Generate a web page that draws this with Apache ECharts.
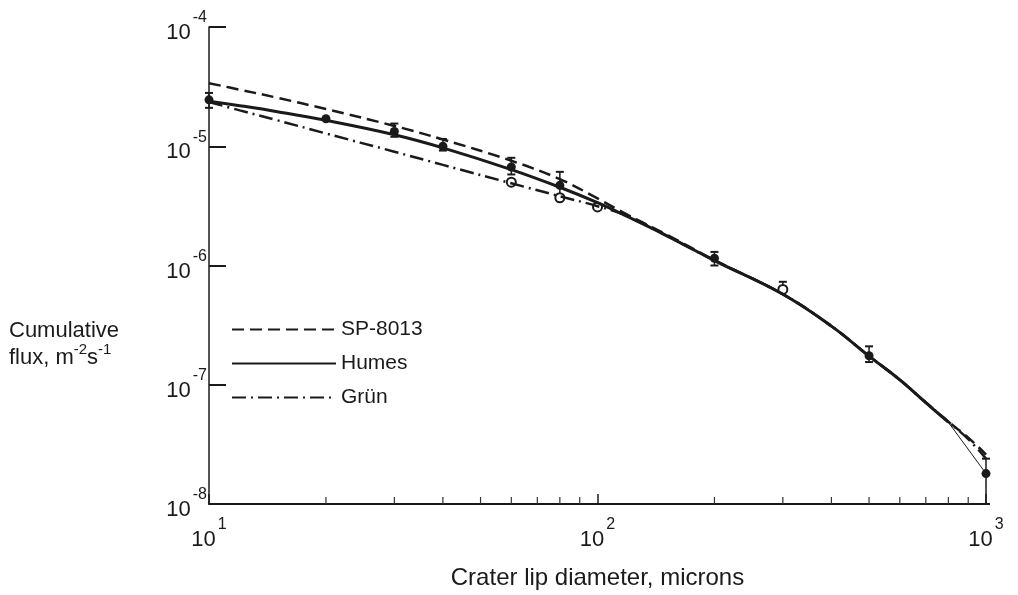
<!DOCTYPE html>
<html>
<head>
<meta charset="utf-8">
<script src="https://cdn.jsdelivr.net/npm/echarts@6/dist/echarts.min.js"></script>
<style>
  html, body { margin: 0; padding: 0; background: #fff; }
  #chart { width: 1018px; height: 595px; }
</style>
</head>
<body>
<div id="chart"></div>
<script>
// crater lip diameter (microns) sampled along the curves
var diam = [10, 12, 15, 20, 30, 40, 60, 80, 100, 120, 150, 200, 300, 400, 500, 600, 700, 800, 900, 1000];
var sp8013 = [3.38e-5, 2.98e-5, 2.55e-5, 2.05e-5, 1.48e-5, 1.14e-5, 7.56e-6, 5.3e-6, 3.65e-6, 2.64e-6, 1.83e-6, 1.11e-6, 5.75e-7, 3.1e-7, 1.74e-7, 1.1e-7, 7.1e-8, 4.9e-8, 3.6e-8, 2.6e-8];
var humes = [2.39e-5, 2.19e-5, 1.95e-5, 1.65e-5, 1.25e-5, 9.7e-6, 6.37e-6, 4.53e-6, 3.36e-6, 2.55e-6, 1.79e-6, 1.1e-6, 5.74e-7, 3.1e-7, 1.74e-7, 1.1e-7, 7.08e-8, 4.85e-8];
var grun = [2.35e-5, 2.0e-5, 1.65e-5, 1.28e-5, 9.0e-6, 6.98e-6, 4.89e-6, 3.81e-6, 3.14e-6, 2.59e-6, 1.79e-6, 1.1e-6, 5.74e-7, 3.1e-7, 1.74e-7, 1.1e-7, 7.1e-8, 4.9e-8, 3.5e-8, 2.4e-8];

// thin tail of the Humes fit down to the last point
var thinX = [800, 1000];
var thinY = [4.85e-8, 1.8e-8];

// measured points
var filledPts = [[10, 2.45e-5], [20, 1.7e-5], [30, 1.33e-5], [40, 1.0e-5], [60, 6.7e-6], [80, 4.7e-6], [200, 1.15e-6], [500, 1.75e-7], [1000, 1.8e-8]];
var openPts = [[60, 5.0e-6], [80, 3.7e-6], [100, 3.1e-6], [300, 6.3e-7]];
var errBars = [[10, 2.1e-5, 2.8e-5], [30, 1.2e-5, 1.55e-5], [40, 9.2e-6, 1.15e-5], [60, 5.8e-6, 8.0e-6], [80, 3.9e-6, 6.1e-6], [200, 1.0e-6, 1.3e-6], [300, 6.0e-7, 7.3e-7], [500, 1.55e-7, 2.1e-7], [1000, 1.0e-8, 2.4e-8]];

// minor x ticks
var minorX = [20, 30, 40, 50, 60, 70, 80, 90, 200, 300, 400, 500, 600, 700, 800, 900];

function pairs(xs, ys) {
  return ys.map(function(y, i) { return [xs[i], y]; });
}

var ink = '#1a1a1a';
var font = '"Liberation Sans", Arial, sans-serif';
var powRich = {
  b: { fontSize: 22, color: ink, fontFamily: font, verticalAlign: 'bottom', lineHeight: 34 },
  s: { fontSize: 16, color: ink, fontFamily: font, verticalAlign: 'top', lineHeight: 34, padding: [0, 0, 0, 2] }
};
function powLabel(v) {
  var e = Math.round(Math.log10(v));
  return '{b|10}{s|' + e + '}';
}

var chart = echarts.init(document.getElementById('chart'), null, { renderer: 'canvas' });
chart.setOption({
  animation: false,
  backgroundColor: '#fff',
  title: {
    text: '{t|Cumulative}\n{t|flux, m}{u|-2}{t|s}{u|-1}',
    left: 4, top: 310,
    textStyle: {
      fontSize: 22, fontWeight: 'normal', color: ink, fontFamily: font, lineHeight: 27,
      rich: {
        t: { fontSize: 22, color: ink, fontFamily: font, verticalAlign: 'bottom', lineHeight: 27 },
        u: { fontSize: 15, color: ink, fontFamily: font, verticalAlign: 'top', lineHeight: 27 }
      }
    }
  },
  legend: {
    data: ['SP-8013', 'Humes', 'Grün'],
    orient: 'vertical', left: 226, top: 314,
    itemWidth: 104, itemHeight: 14, itemGap: 13,
    itemStyle: { opacity: 0 },
    textStyle: { fontSize: 21, color: ink, fontFamily: font }
  },
  grid: { left: 209, right: 32, top: 27, bottom: 89 },
  xAxis: {
    type: 'log', logBase: 10, min: 10, max: 1000,
    name: 'Crater lip diameter, microns', nameLocation: 'middle', nameGap: 62,
    nameTextStyle: { fontSize: 24, color: ink, fontFamily: font },
    axisLine: { lineStyle: { color: ink, width: 2 } },
    axisTick: { inside: true, length: 10, lineStyle: { color: ink, width: 1.5 } },
    axisLabel: { margin: 13, formatter: powLabel, rich: powRich },
    splitLine: { show: false }
  },
  yAxis: {
    type: 'log', logBase: 10, min: 1e-8, max: 1e-4,
    axisLine: { lineStyle: { color: ink, width: 1.5 } },
    axisTick: { inside: true, length: 17, lineStyle: { color: ink, width: 2 } },
    axisLabel: { margin: 2, formatter: powLabel, rich: powRich },
    splitLine: { show: false }
  },
  series: [
    {
      name: 'SP-8013', type: 'line', data: pairs(diam, sp8013), smooth: 0.4,
      symbol: 'none', lineStyle: { color: ink, width: 2.5, type: [12, 6] }, itemStyle: { color: ink }
    },
    {
      name: 'Humes', type: 'line', data: pairs(diam, humes), smooth: 0.4,
      symbol: 'none', lineStyle: { color: ink, width: 3 }, itemStyle: { color: ink }
    },
    {
      name: 'Grün', type: 'line', data: pairs(diam, grun), smooth: 0.4,
      symbol: 'none', lineStyle: { color: ink, width: 2.5, type: [14, 5, 2, 5] }, itemStyle: { color: ink }
    },
    {
      name: 'thin', type: 'line', data: pairs(thinX, thinY),
      symbol: 'none', lineStyle: { color: ink, width: 1 }
    },
    {
      name: 'err', type: 'custom', data: errBars,
      encode: { x: 0, y: [1, 2] },
      renderItem: function(params, api) {
        var lo = api.coord([api.value(0), api.value(1)]);
        var hi = api.coord([api.value(0), api.value(2)]);
        var w = 4;
        return {
          type: 'group',
          children: [
            { type: 'line', shape: { x1: lo[0], y1: lo[1], x2: hi[0], y2: hi[1] }, style: { stroke: ink, lineWidth: 1.5 } },
            { type: 'line', shape: { x1: hi[0] - w, y1: hi[1], x2: hi[0] + w, y2: hi[1] }, style: { stroke: ink, lineWidth: 2 } },
            { type: 'line', shape: { x1: lo[0] - w, y1: lo[1], x2: lo[0] + w, y2: lo[1] }, style: { stroke: ink, lineWidth: 2 } }
          ]
        };
      }
    },
    {
      name: 'minor', type: 'custom', data: minorX.map(function(v) { return [v, 1e-8]; }),
      encode: { x: 0, y: 1 },
      renderItem: function(params, api) {
        var p = api.coord([api.value(0), api.value(1)]);
        return { type: 'line', shape: { x1: p[0], y1: p[1], x2: p[0], y2: p[1] - 7 }, style: { stroke: '#333', lineWidth: 1.2 } };
      }
    },
    {
      name: 'filled', type: 'scatter', data: filledPts, symbol: 'circle', symbolSize: 9,
      itemStyle: { color: ink, opacity: 1 }
    },
    {
      name: 'open', type: 'scatter', data: openPts, symbol: 'emptyCircle', symbolSize: 9,
      itemStyle: { color: ink, borderWidth: 1.5, opacity: 1 }
    }
  ]
});
</script>
</body>
</html>
